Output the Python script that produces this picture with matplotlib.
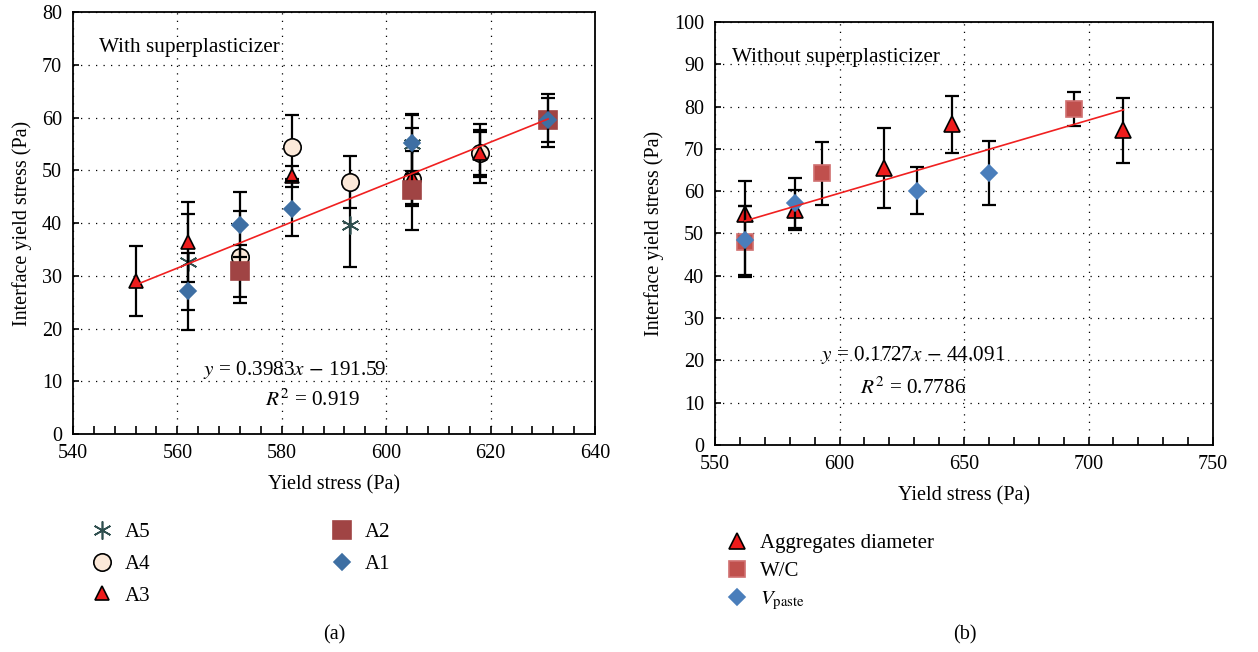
import matplotlib
matplotlib.use("Agg")
import matplotlib.pyplot as plt

plt.rcParams['font.family'] = ['Liberation Serif', 'DejaVu Serif']
plt.rcParams['mathtext.fontset'] = 'stix'

# -----------------------------
# (a) With superplasticizer
# -----------------------------
a1_x = [562, 572, 582, 605, 631]
a1_y = [27.1, 39.7, 42.7, 55.2, 59.5]
a1_err = [7.3, 6.2, 5.2, 5.3, 5.0]

a2_x = [572, 605, 631]
a2_y = [30.9, 46.3, 59.5]
a2_err = [5.0, 3.0, 4.2]

a3_x = [552, 562, 582, 605, 618]
a3_y = [29.0, 36.4, 48.9, 48.7, 53.2]
a3_err = [6.7, 7.5, 2.0, 5.0, 4.5]

a4_x = [572, 582, 593, 605, 618]
a4_y = [33.6, 54.4, 47.8, 48.3, 53.2]
a4_err = [8.7, 6.1, 4.9, 9.7, 5.6]

a5_x = [562, 593, 605, 618]
a5_y = [32.6, 39.6, 55.0, 53.2]
a5_err = [9.1, 7.9, 5.7, 4.0]

fit_a = (0.3983, -191.59)
fit_a_range = [552, 631]

# -----------------------------
# (b) Without superplasticizer
# -----------------------------
agg_x = [562, 582, 618, 645, 714]
agg_y = [54.7, 55.5, 65.5, 75.8, 74.4]
agg_err = [7.7, 4.7, 9.5, 6.8, 7.7]

wc_x = [562, 593, 694]
wc_y = [48.0, 64.2, 79.5]
wc_err = [8.4, 7.4, 4.0]

vp_x = [562, 582, 631, 660]
vp_y = [48.4, 57.2, 60.1, 64.3]
vp_err = [8.1, 5.8, 5.6, 7.6]

fit_b = (0.1727, -44.091)
fit_b_range = [562, 714]


def style_axes(ax, xlim, xmajor, xminor, ylim, ymajor):
    ax.set_xlim(*xlim)
    ax.set_ylim(*ylim)
    ax.set_xticks(xmajor)
    ax.set_xticks(xminor, minor=True)
    ax.set_yticks(ymajor)
    ax.tick_params(which='both', direction='in', labelsize=14.5, width=1.2)
    ax.tick_params(axis='x', which='both', length=6, pad=7)
    ax.tick_params(axis='y', which='major', length=4, pad=8)
    ax.grid(True, which='major', color='black', linestyle=(0, (1, 5)), linewidth=0.9)
    for s in ax.spines.values():
        s.set_linewidth(1.3)
    ax.set_xlabel("Yield stress (Pa)", fontsize=14.5, labelpad=9)
    ax.set_ylabel("Interface yield stress (Pa)", fontsize=14.5, labelpad=7)


def draw(ax, x, y, err, marker, ms, face, edge, label, z):
    ax.errorbar(x, y, yerr=err, fmt='none', ecolor='black', elinewidth=1.6,
                capsize=5, capthick=1.6, zorder=z)
    ax.plot(x, y, linestyle='none', marker=marker, markersize=ms,
            markerfacecolor=face, markeredgecolor=edge, markeredgewidth=1.2,
            label=label, zorder=z + 0.5)


fig = plt.figure(figsize=(12.58, 6.52), dpi=100)

# ---- panel (a)
ax1 = fig.add_axes([0.058, 0.3344, 0.415, 0.647])
style_axes(ax1, (540, 640), range(540, 641, 20), range(540, 641, 4), (0, 80), range(0, 81, 10))

draw(ax1, a5_x, a5_y, a5_err, (6, 2, 0), 13, '#2F4F4F', '#2F4F4F', 'A5', 3)
draw(ax1, a4_x, a4_y, a4_err, 'o', 12.5, '#FCE9D9', 'black', 'A4', 4)
draw(ax1, a3_x, a3_y, a3_err, '^', 10, '#EE1C1C', 'black', 'A3', 5)
draw(ax1, a2_x, a2_y, a2_err, 's', 12.5, '#A04444', '#A04444', 'A2', 6)
draw(ax1, a1_x, a1_y, a1_err, 'D', 8.5, '#3E6FA3', '#3E6FA3', 'A1', 7)

ax1.plot(fit_a_range, [fit_a[0] * v + fit_a[1] for v in fit_a_range],
         color='#F02020', linewidth=1.2, zorder=10)

ax1.text(0.05, 0.917, "With superplasticizer", transform=ax1.transAxes,
         fontsize=15.3, va='center', ha='left')
ax1.text(0.424, 0.152, r"$y$ = 0.3983$x$ $-$ 191.59", transform=ax1.transAxes,
         fontsize=15.3, va='center', ha='center')
ax1.text(0.459, 0.08, r"$R^2$ = 0.919", transform=ax1.transAxes,
         fontsize=15.3, va='center', ha='center')

h1, l1 = ax1.get_legend_handles_labels()
fig.legend(h1, l1, loc='upper left', bbox_to_anchor=(0.058, 0.227), ncol=2,
           frameon=False, fontsize=15, columnspacing=8.7, handlelength=1,
           handletextpad=0.6, labelspacing=0.58)

fig.text(0.266, 0.027, "(a)", ha='center', va='center', fontsize=14.5)

# ---- panel (b)
ax2 = fig.add_axes([0.5684, 0.3175, 0.3959, 0.6488])
style_axes(ax2, (550, 750), range(550, 751, 50), range(550, 751, 10), (0, 100), range(0, 101, 10))

draw(ax2, agg_x, agg_y, agg_err, '^', 11, '#EE1C1C', 'black', 'Aggregates diameter', 5)
draw(ax2, wc_x, wc_y, wc_err, 's', 12, '#C0504D', '#D07070', 'W/C', 6)
draw(ax2, vp_x, vp_y, vp_err, 'D', 8, '#4A7EBB', '#4A7EBB', r'$V_{\rm paste}$', 7)

ax2.plot(fit_b_range, [fit_b[0] * v + fit_b[1] for v in fit_b_range],
         color='#F02020', linewidth=1.2, zorder=10)

ax2.text(0.034, 0.915, "Without superplasticizer", transform=ax2.transAxes,
         fontsize=15.3, va='center', ha='left')
ax2.text(0.398, 0.213, r"$y$ = 0.1727$x$ $-$ 44.091", transform=ax2.transAxes,
         fontsize=15.3, va='center', ha='center')
ax2.text(0.398, 0.135, r"$R^2$ = 0.7786", transform=ax2.transAxes,
         fontsize=15.3, va='center', ha='center')

h2, l2 = ax2.get_legend_handles_labels()
fig.legend(h2, l2, loc='upper left', bbox_to_anchor=(0.563, 0.21), ncol=1,
           frameon=False, fontsize=15, handlelength=1,
           handletextpad=0.6, labelspacing=0.4)

fig.text(0.767, 0.027, "(b)", ha='center', va='center', fontsize=14.5)

fig.savefig("out.png", dpi=100)
